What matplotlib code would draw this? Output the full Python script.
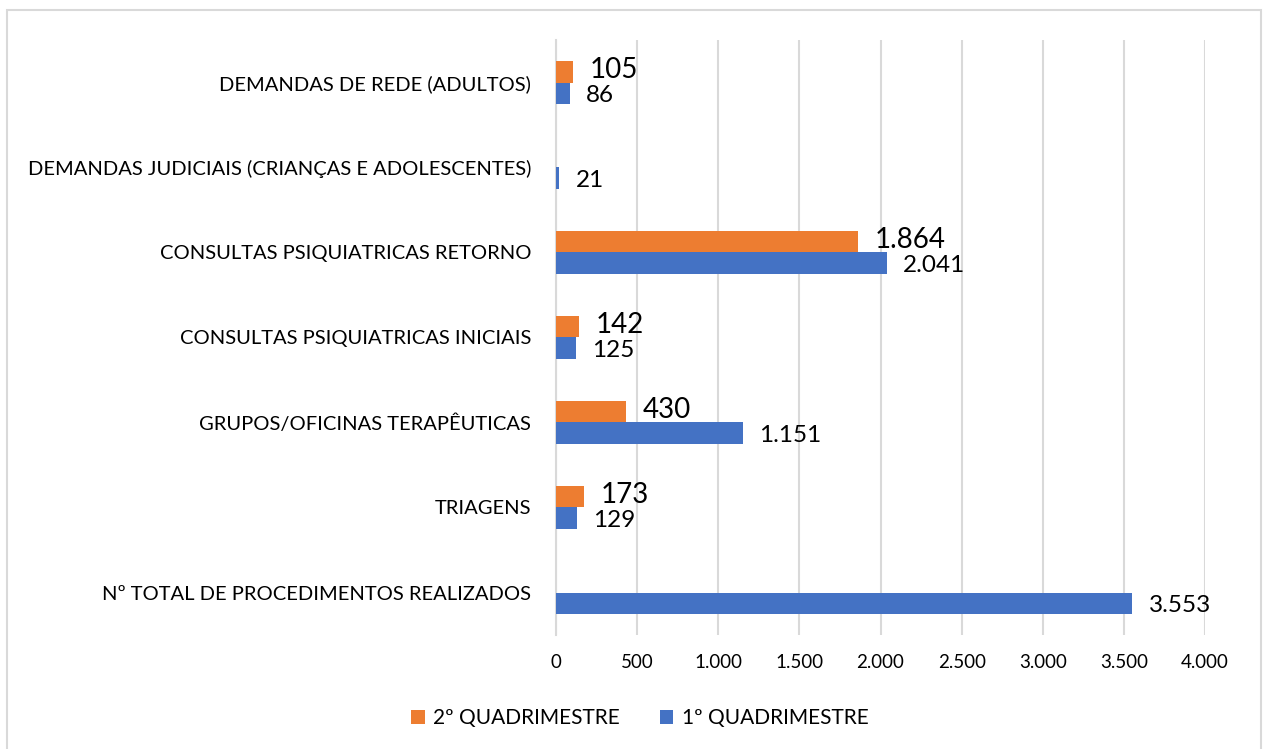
import numpy as np
import matplotlib.pyplot as plt
from matplotlib.patches import Rectangle

plt.rcParams['font.family'] = ['Lato', 'DejaVu Sans']

categorias = [
    "Nº TOTAL DE PROCEDIMENTOS REALIZADOS",
    "TRIAGENS",
    "GRUPOS/OFICINAS TERAPÊUTICAS",
    "CONSULTAS PSIQUIATRICAS INICIAIS",
    "CONSULTAS PSIQUIATRICAS RETORNO",
    "DEMANDAS JUDICIAIS (CRIANÇAS E ADOLESCENTES)",
    "DEMANDAS DE REDE (ADULTOS)",
]
quad1 = [3553, 129, 1151, 125, 2041, 21, 86]
quad2 = [np.nan, 173, 430, 142, 1864, np.nan, 105]
ticks_x = [0, 500, 1000, 1500, 2000, 2500, 3000, 3500, 4000]

AZUL = "#4472C4"
LARANJA = "#ED7D31"
GRADE = "#D9D9D9"


def fmt(v):
    return f"{int(v):,}".replace(",", ".")


fig = plt.figure(figsize=(12.67, 7.49), dpi=100)
ax = fig.add_axes([556 / 1267, 1 - 635 / 749, (1205 - 556) / 1267, (635 - 40) / 749])

y = np.arange(len(categorias))
h = 0.255
b1 = ax.barh(y - h / 2, quad1, height=h, color=AZUL, label="1º QUADRIMESTRE", zorder=3)
b2 = ax.barh(y + h / 2, quad2, height=h, color=LARANJA, label="2º QUADRIMESTRE", zorder=3)

for yy, v in zip(y, quad1):
    ax.annotate(fmt(v), (v, yy - h / 2), xytext=(11.5, -1.5), textcoords="offset points",
                ha="left", va="center", fontsize=17.5, color="black")
for yy, v in zip(y, quad2):
    if np.isnan(v):
        continue
    ax.annotate(fmt(v), (v, yy + h / 2), xytext=(12, 1.5), textcoords="offset points",
                ha="left", va="center", fontsize=20, color="black")

ax.set_xlim(0, 4000)
ax.set_ylim(-0.5, len(categorias) - 0.5)
ax.set_xticks(ticks_x)
ax.set_xticklabels([fmt(t) for t in ticks_x], fontsize=13.5)
ax.set_yticks(y)
ax.set_yticklabels(categorias, fontsize=14.5)
ax.tick_params(axis="both", length=0)
ax.tick_params(axis="y", pad=18)
ax.tick_params(axis="x", pad=14)
ax.grid(axis="x", color=GRADE, linewidth=1.5, zorder=0)
for s in ["top", "right", "bottom"]:
    ax.spines[s].set_visible(False)
ax.spines["left"].set_color(GRADE)
ax.spines["left"].set_linewidth(1.5)

fig.legend(handles=[b2, b1], loc="center", bbox_to_anchor=(0.505, 1 - 718 / 749), ncol=2,
           frameon=False, fontsize=15, handlelength=0.65, handleheight=0.65,
           handletextpad=0.4, columnspacing=1.9)

# moldura cinza da área do gráfico
fig.patches.append(Rectangle((7 / 1267, -0.02), (1261 - 7) / 1267, 1.02 - 10 / 749,
                             transform=fig.transFigure, fill=False,
                             edgecolor=GRADE, linewidth=1.5))

fig.savefig("out.png", dpi=100, facecolor="white")
